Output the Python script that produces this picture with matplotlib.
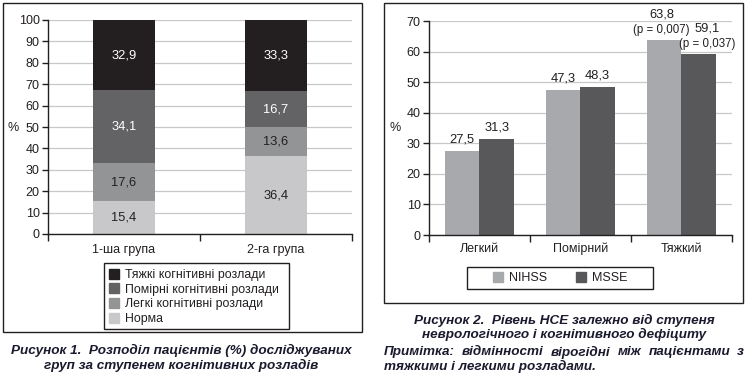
import matplotlib
matplotlib.use("Agg")
import matplotlib.pyplot as plt
from matplotlib.patches import Rectangle, Patch
import numpy as np

plt.rcParams['font.family'] = ['Liberation Sans', 'DejaVu Sans']

# Figure 1 data (stacked, % of patients)
groups = ['1-ша група', '2-га група']
norm = [15.4, 36.4]
mild = [17.6, 13.6]
moderate = [34.1, 16.7]
severe = [32.9, 33.3]
legend1 = ['Тяжкі когнітивні розлади', 'Помірні когнітивні розлади',
           'Легкі когнітивні розлади', 'Норма']

# Figure 2 data
degrees = ['Легкий', 'Помірний', 'Тяжкий']
nihss = [27.5, 47.3, 63.8]
msse = [31.3, 48.3, 59.1]
nihss_p = ['', '', '(p = 0,007)']
msse_p = ['', '', '(p = 0,037)']

W, H = 748, 382
INK = '#231f20'
CAP = '#1a1a2e'

fig = plt.figure(figsize=(W / 100, H / 100), dpi=100)


def fx(x):
    return x / W


def fy(y):
    return 1 - y / H


def px_axes(l, t, r, b):
    return fig.add_axes([fx(l), fy(b), (r - l) / W, (b - t) / H])


def box(l, t, r, b, lw=1.0):
    fig.patches.append(Rectangle((fx(l), fy(b)), (r - l) / W, (b - t) / H,
                                 transform=fig.transFigure, fill=False,
                                 edgecolor=INK, lw=lw))


def num(v):
    return f"{v:.1f}".replace('.', ',')


def style_axes(ax, ymax, step, xpad):
    ax.set_ylim(0, ymax)
    ax.set_yticks(np.arange(0, ymax + 1, step))
    ax.yaxis.grid(True, color='#c8c8c8', lw=0.9)
    ax.set_axisbelow(True)
    for s in ['top', 'right']:
        ax.spines[s].set_visible(False)
    for s in ['left', 'bottom']:
        ax.spines[s].set_color(INK)
        ax.spines[s].set_linewidth(1.0)
    ax.tick_params(axis='y', length=4, width=1.0, color=INK, labelsize=9,
                   labelcolor=INK, pad=2)
    ax.tick_params(axis='x', which='major', length=0, labelsize=9,
                   labelcolor=INK, pad=xpad)
    ax.tick_params(axis='x', which='minor', length=5, width=1.0, color=INK)


# ---- panel 1 ----
box(3, 3, 362, 332)
ax1 = px_axes(48, 20, 352, 234)
x1 = np.arange(len(groups)) + 0.5
ax1.set_xlim(0, len(groups))
segs = [norm, mild, moderate, severe]
cols = ['#c8c8ca', '#939496', '#636365', '#231f20']
txtc = [INK, INK, 'white', 'white']
bottom = np.zeros(len(groups))
for vals, c, tc in zip(segs, cols, txtc):
    bars = ax1.bar(x1, vals, 0.41, bottom=bottom, color=c, zorder=2)
    for b, v, y0 in zip(bars, vals, bottom):
        ax1.text(b.get_x() + b.get_width() / 2, y0 + v / 2, num(v),
                 ha='center', va='center', color=tc, fontsize=9.3)
    bottom = bottom + np.array(vals)
style_axes(ax1, 100, 10, 13.7)
ax1.set_xticks(x1)
ax1.set_xticklabels(groups)
plt.setp(ax1.get_xticklabels(), va='baseline')
ax1.set_xticks([0, 1, 2], minor=True)
fig.text(fx(8), fy(128), '%', ha='left', va='center', fontsize=9, color=INK)

handles1 = [Patch(color=c) for c in cols[::-1]]
box(104, 263, 289, 329)
fig.legend(handles1, legend1, loc='upper left',
           bbox_to_anchor=(fx(105), fy(265)), frameon=False, fontsize=8.9,
           handlelength=0.85, handleheight=0.85, handletextpad=0.5,
           labelspacing=0.2, borderpad=0.3, borderaxespad=0, labelcolor=INK)

cap = dict(fontsize=9.7, weight='bold', style='italic', color=CAP, va='center')
fig.text(fx(181), fy(350), 'Рисунок 1.  Розподіл пацієнтів (%) досліджуваних',
         ha='center', **cap)
fig.text(fx(181), fy(365), 'груп за ступенем когнітивних розладів',
         ha='center', **cap)

# ---- panel 2 ----
box(384, 3, 743, 303)
ax2 = px_axes(429, 21, 732, 235)
x2 = np.arange(len(degrees)) + 0.5
ax2.set_xlim(0, len(degrees))
w = 0.34
b_n = ax2.bar(x2 - w / 2, nihss, w, color='#a7a9ac', zorder=2)
b_m = ax2.bar(x2 + w / 2, msse, w, color='#58585a', zorder=2)
for bars, vals, ps, dx in [(b_n, nihss, nihss_p, -2), (b_m, msse, msse_p, 6)]:
    for b, v, p in zip(bars, vals, ps):
        xc = b.get_x() + b.get_width() / 2
        dy = 4
        if p:
            ax2.annotate(p, (xc, v), xytext=(dx, 3), textcoords='offset points',
                         ha='center', va='bottom', fontsize=8.3, color=INK)
            dy = 14
        ax2.annotate(num(v), (xc, v), xytext=(dx if p else 0, dy),
                     textcoords='offset points', ha='center', va='bottom',
                     fontsize=9.3, color=INK)
style_axes(ax2, 70, 10, 12.3)
ax2.set_xticks(x2)
ax2.set_xticklabels(degrees)
plt.setp(ax2.get_xticklabels(), va='baseline')
ax2.set_xticks([0, 1, 2, 3], minor=True)
fig.text(fx(390), fy(128), '%', ha='left', va='center', fontsize=9, color=INK)

box(467, 267, 653, 289)
fig.legend([Patch(color='#a7a9ac'), Patch(color='#58585a')], ['NIHSS', 'MSSE'],
           loc='center', bbox_to_anchor=(fx(560), fy(278)), ncol=2,
           frameon=False, fontsize=9, handlelength=0.8, handleheight=0.8,
           handletextpad=0.5, columnspacing=2.3, borderaxespad=0,
           labelcolor=INK)

fig.text(fx(564), fy(320), 'Рисунок 2.  Рівень НСЕ залежно від ступеня',
         ha='center', **cap)
fig.text(fx(564), fy(334), 'неврологічного і когнітивного дефіциту',
         ha='center', **cap)

# justified note line
words = 'Примітка: відмінності вірогідні між пацієнтами з'.split()
renderer = fig.canvas.get_renderer()
tw = [fig.text(0, 0, wd, **cap) for wd in words]
widths = [t.get_window_extent(renderer).width for t in tw]
left, right = 384, 744
gap = (right - left - sum(widths)) / (len(words) - 1)
xpos = left
for t, wd in zip(tw, widths):
    t.set_position((fx(xpos), fy(352)))
    xpos += wd + gap
fig.text(fx(384), fy(366), 'тяжкими і легкими розладами.', ha='left', **cap)

fig.savefig('out.png', dpi=100)
